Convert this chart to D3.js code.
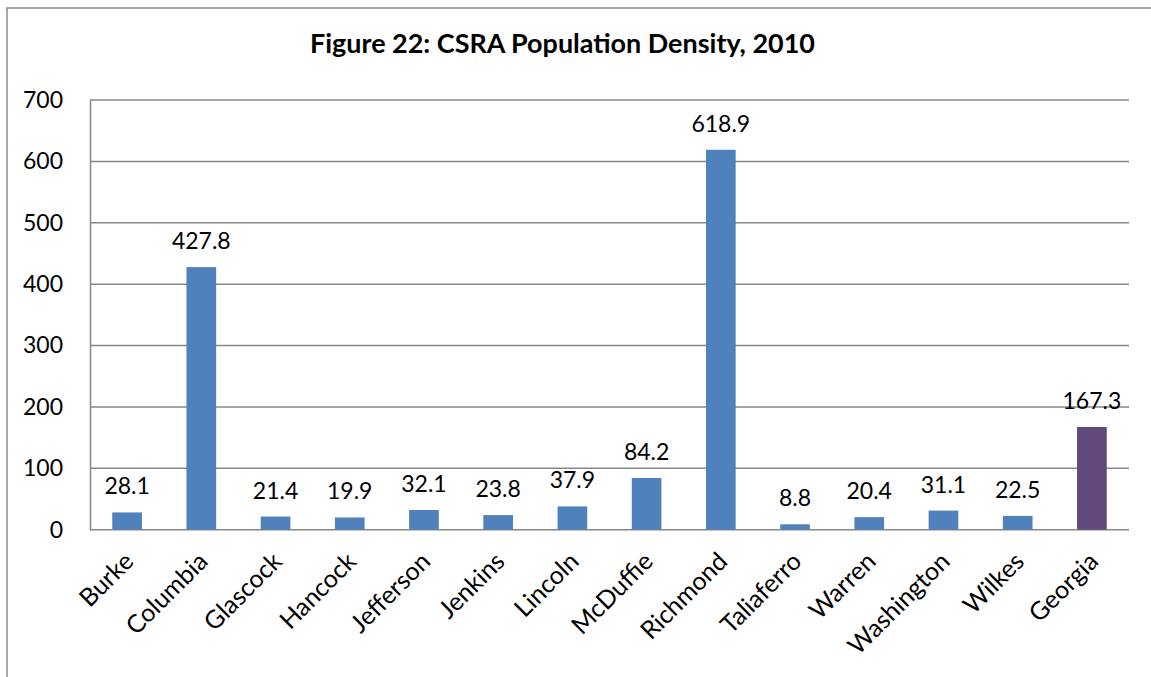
<!DOCTYPE html>
<html><head><meta charset="utf-8">
<script src="https://cdn.jsdelivr.net/npm/d3@7"></script>
<style>body{margin:0;background:#fff;} svg{display:block;} text{font-family:Lato,"Noto Sans",sans-serif;fill:#000;}</style>
</head><body>
<svg id="c" width="1151" height="677"></svg>
<script>
const categories = ["Burke","Columbia","Glascock","Hancock","Jefferson","Jenkins","Lincoln","McDuffie","Richmond","Taliaferro","Warren","Washington","Wilkes","Georgia"];
const values = [28.1,427.8,21.4,19.9,32.1,23.8,37.9,84.2,618.9,8.8,20.4,31.1,22.5,167.3];
const yTicks = [0,100,200,300,400,500,600,700];
const title = "Figure 22: CSRA Population Density, 2010";

const svg = d3.select("#c");
const m = {left:90, right:1129, top:100, bottom:529.7};
const x = d3.scaleBand().domain(categories).range([m.left, m.right]).paddingInner(0.6).paddingOuter(0.3);
const y = d3.scaleLinear().domain([0,700]).range([m.bottom, m.top]);

svg.append("rect").attr("x",7).attr("y",8).attr("width",1170).attr("height",700)
  .attr("fill","none").attr("stroke","#8c8c8c").attr("stroke-width",1.5);

const t = svg.append("text").attr("x",562.5).attr("y",53).attr("text-anchor","middle")
  .attr("font-weight","bold").attr("font-size",26).text(title);
const w = t.node().getComputedTextLength();
t.attr("font-size", 26*505/w);

// gridlines
svg.append("g").selectAll("line").data(yTicks).join("line")
  .attr("x1",m.left).attr("x2",m.right).attr("y1",d=>y(d)).attr("y2",d=>y(d))
  .attr("stroke","#878787").attr("stroke-width",1.5);

const yAxis = svg.append("g").attr("transform",`translate(${m.left},0)`)
  .call(d3.axisLeft(y).tickValues(yTicks).tickSize(0).tickPadding(27).tickFormat(d3.format("d")));
yAxis.select(".domain").attr("stroke","#878787").attr("stroke-width",1.5);
yAxis.selectAll("text").attr("font-size",23).attr("font-family","Lato,sans-serif").attr("fill","#000");

svg.append("g").selectAll("rect").data(values).join("rect")
  .attr("x",(d,i)=>x(categories[i])).attr("width",x.bandwidth())
  .attr("y",d=>y(d)).attr("height",d=>y(0)-y(d))
  .attr("fill",(d,i)=>categories[i]==="Georgia"?"#604a7b":"#4f81bd");

svg.append("g").selectAll("text").data(values).join("text")
  .attr("x",(d,i)=>x(categories[i])+x.bandwidth()/2).attr("y",d=>y(d)-18)
  .attr("text-anchor","middle").attr("font-size",23).text(d=>d3.format(".1f")(d));

svg.append("g").selectAll("text").data(categories).join("text")
  .attr("transform",d=>`translate(${x(d)+x.bandwidth()/2+8},563) rotate(-45)`)
  .attr("text-anchor","end").attr("font-size",25).text(d=>d);
</script>
</body></html>
